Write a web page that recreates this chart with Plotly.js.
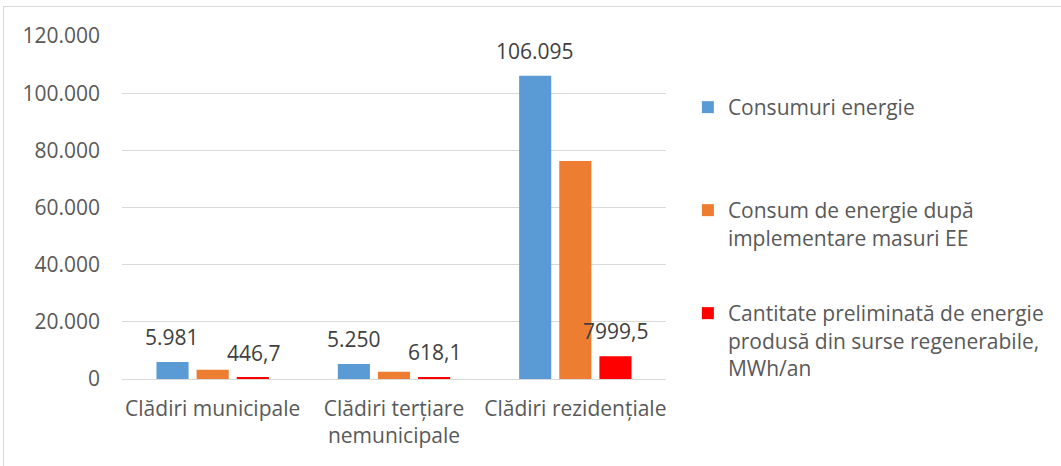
<!DOCTYPE html>
<html>
<head>
<meta charset="utf-8">
<script src="https://cdn.plot.ly/plotly-3.0.1.min.js"></script>
<style>
  html, body { margin: 0; padding: 0; background: #ffffff; overflow: hidden; }
  #frame { position: absolute; left: 3px; top: 6px; width: 1200px; height: 600px; border: 1px solid #d9d9d9; }
  #chart { position: absolute; left: 0; top: 0; width: 1061px; height: 466px; }
</style>
</head>
<body>
<div id="frame"></div>
<div id="chart"></div>
<script>
// ---- data ----
const categories = ["Clădiri municipale", "Clădiri terțiare<br>nemunicipale", "Clădiri rezidențiale"];
const seriesNames = [
  "Consumuri energie",
  "Consum de energie după<br>implementare masuri EE",
  "Cantitate preliminată de energie<br>produsă din surse regenerabile,<br>MWh/an"
];
const consumuriEnergie = [5981, 5250, 106095];
const consumDupaEE = [3230, 2510, 76270];
const surseRegenerabile = [446.7, 618.1, 7999.5];
const yTickVals = [0, 20000, 40000, 60000, 80000, 100000, 120000];
const yTickText = ["0", "20.000", "40.000", "60.000", "80.000", "100.000", "120.000"];

// ---- style ----
const colors = ["#5B9BD5", "#ED7D31", "#FF0000"];
const txtColor = "#595959";
const fontFam = "'Open Sans', 'Noto Sans', sans-serif";
const fs = 21;
const W = 1061, H = 466;
const mL = 122, mR = 392, mT = 36, mB = 87;
const bargap = 0.336, bargroupgap = 0.2;

function fmtThousands(v) {
  const s = Math.round(v).toString();
  return s.replace(/\B(?=(\d{3})+(?!\d))/g, ".");
}
function fmtDecimal(v) {
  return v.toFixed(1).replace(".", ",");
}

const seriesValues = [consumuriEnergie, consumDupaEE, surseRegenerabile];
const traces = seriesValues.map((vals, i) => ({
  type: "bar",
  name: seriesNames[i],
  x: categories,
  y: vals,
  marker: { color: colors[i] },
  legend: i === 0 ? "legend" : "legend" + (i + 1),
  hoverinfo: "x+y+name"
}));

// data labels (series 1 and 3), placed over their bars via the axes
const plotW = W - mL - mR;
const catW = plotW / categories.length;
const slot = catW * (1 - bargap) / 3;
const annotations = [];
categories.forEach((c, k) => {
  annotations.push({
    x: c, y: consumuriEnergie[k], xref: "x", yref: "y",
    xshift: -slot, yshift: 9, yanchor: "bottom", showarrow: false,
    text: fmtThousands(consumuriEnergie[k]),
    font: { family: fontFam, size: fs, color: "#404040" }
  });
  annotations.push({
    x: c, y: surseRegenerabile[k], xref: "x", yref: "y",
    xshift: slot, yshift: 9, yanchor: "bottom", showarrow: false,
    text: fmtDecimal(surseRegenerabile[k]),
    font: { family: fontFam, size: fs, color: "#404040" }
  });
});

const legendFont = { family: fontFam, size: fs, color: txtColor };
function legendAt(yPaper) {
  return {
    x: (691 - mL) / plotW, xanchor: "left",
    y: yPaper, yanchor: "top",
    font: legendFont, bgcolor: "rgba(0,0,0,0)",
    valign: "top", itemclick: false, itemdoubleclick: false
  };
}
function py(pix) { return 1 - (pix - mT) / (H - mT - mB); }

const layout = {
  width: W, height: H,
  margin: { l: mL, r: mR, t: mT, b: mB, pad: 0 },
  paper_bgcolor: "rgba(0,0,0,0)",
  plot_bgcolor: "rgba(0,0,0,0)",
  barmode: "group",
  bargap: bargap,
  bargroupgap: bargroupgap,
  separators: ",.",
  font: { family: fontFam, size: fs, color: txtColor },
  xaxis: {
    type: "category",
    showgrid: false, zeroline: false, showline: false,
    ticks: "", ticklabelstandoff: 15,
    tickfont: { family: fontFam, size: fs, color: txtColor },
    fixedrange: true
  },
  yaxis: {
    range: [0, 120000],
    tickvals: yTickVals, ticktext: yTickText,
    showgrid: true, gridcolor: "#D9D9D9", gridwidth: 1.3,
    zeroline: true, zerolinecolor: "#D9D9D9", zerolinewidth: 1.3,
    showline: false, ticks: "", ticklabelstandoff: 21,
    tickfont: { family: fontFam, size: fs, color: txtColor },
    fixedrange: true
  },
  showlegend: true,
  legend: legendAt(py(87)),
  legend2: legendAt(py(190)),
  legend3: legendAt(py(293)),
  annotations: annotations
};

Plotly.newPlot("chart", traces, layout, { displayModeBar: false, staticPlot: false });
</script>
</body>
</html>
